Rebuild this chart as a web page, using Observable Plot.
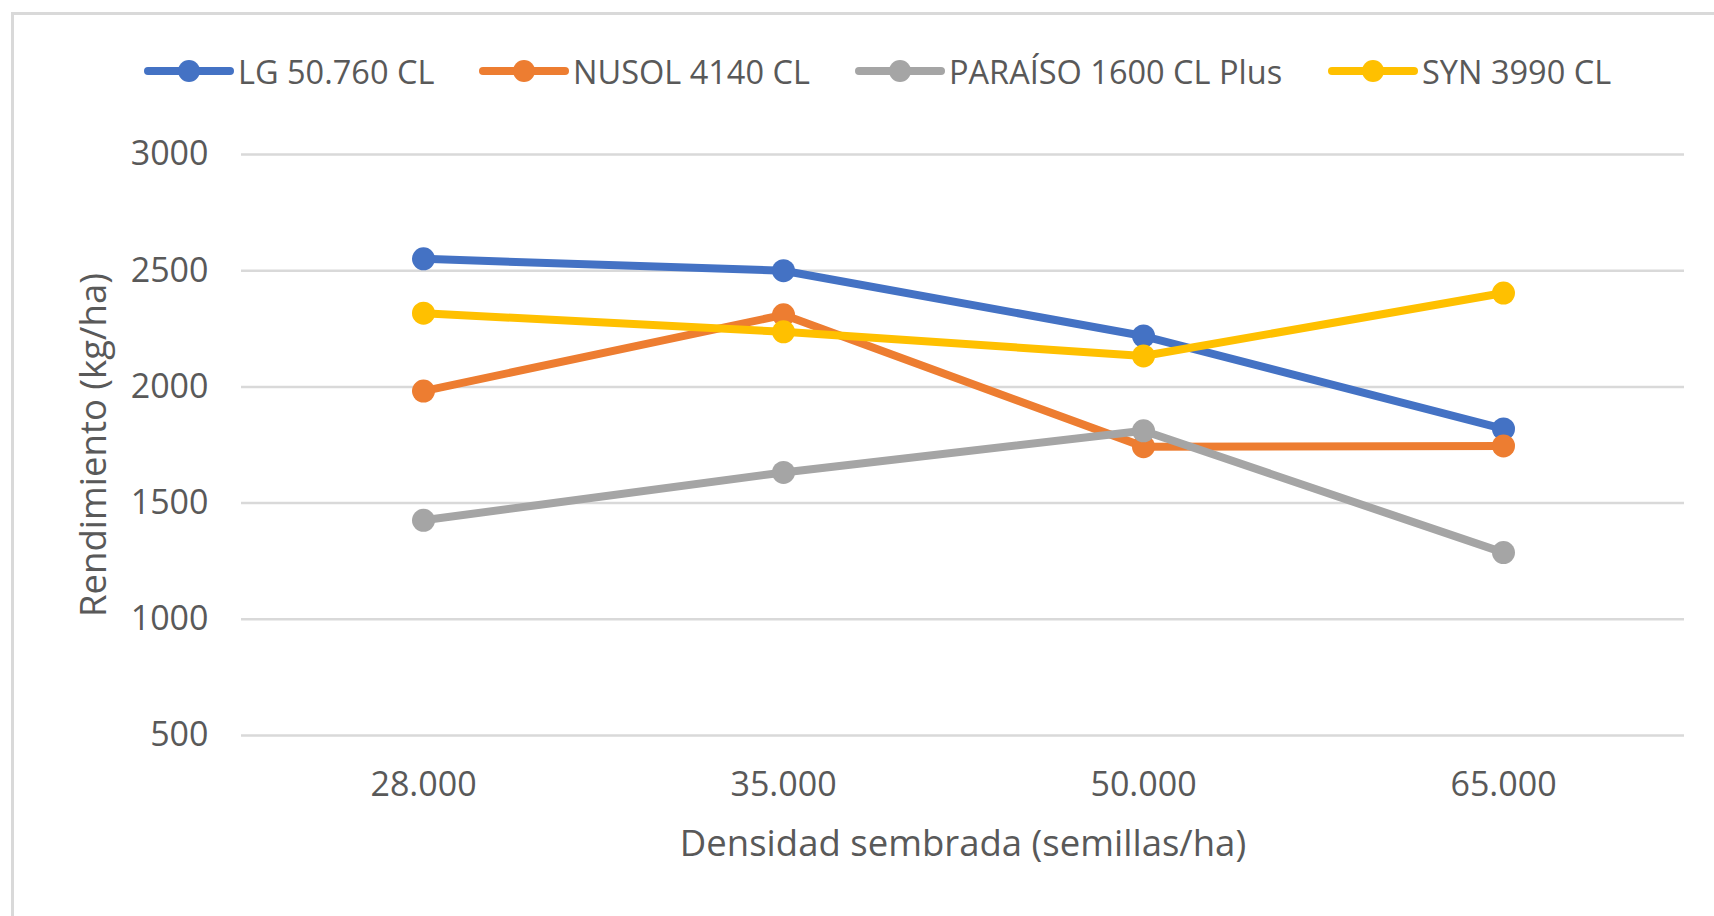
<!DOCTYPE html>
<html>
<head>
<meta charset="utf-8">
<script src="https://cdn.jsdelivr.net/npm/d3@7"></script>
<script src="https://cdn.jsdelivr.net/npm/@observablehq/plot@0.6"></script>
<style>
  html, body { margin: 0; padding: 0; background: #fff; }
  #wrap { position: relative; width: 1714px; height: 916px; overflow: hidden; font-family: "Open Sans", sans-serif; color: #595959; }
  #frame { position: absolute; left: 11px; top: 12px; width: 1720px; height: 940px; border: 3px solid #D9D9D9; box-sizing: border-box; }
  #legend { position: absolute; left: 0; top: 0; width: 1714px; height: 120px; }
  .item { position: absolute; top: 52px; height: 38px; display: flex; align-items: center; font-size: 32.5px; white-space: nowrap; }
  .item svg { margin-right: 4px; }
  #chart { position: absolute; left: 0; top: 120px; }
</style>
</head>
<body>
<div id="wrap">
  <div id="frame"></div>
  <div id="legend"></div>
  <div id="chart"></div>
</div>
<script>
const densities = ["28.000", "35.000", "50.000", "65.000"];
const seriesNames = ["LG 50.760 CL", "NUSOL 4140 CL", "PARAÍSO 1600 CL Plus", "SYN 3990 CL"];
const seriesColors = ["#4472C4", "#ED7D31", "#A5A5A5", "#FFC000"];
const lgValues = [2551, 2500, 2219, 1819];
const nusolValues = [1982, 2310, 1743, 1746];
const paraisoValues = [1426, 1632, 1811, 1287];
const synValues = [2317, 2237, 2133, 2404];
const yTicks = [500, 1000, 1500, 2000, 2500, 3000];
const xTitle = "Densidad sembrada (semillas/ha)";
const yTitle = "Rendimiento (kg/ha)";

const allValues = [lgValues, nusolValues, paraisoValues, synValues];
const data = [];
seriesNames.forEach((s, i) => {
  densities.forEach((d, j) => data.push({series: s, density: d, value: allValues[i][j]}));
});

// legend
const legendX = [144, 479, 855, 1328];
const legend = document.getElementById("legend");
seriesNames.forEach((s, i) => {
  const div = document.createElement("div");
  div.className = "item";
  div.style.left = legendX[i] + "px";
  div.innerHTML = `<svg width="90" height="26"><line x1="4" y1="13" x2="86" y2="13" stroke="${seriesColors[i]}" stroke-width="8" stroke-linecap="round"/><circle cx="45" cy="13" r="11" fill="${seriesColors[i]}"/></svg><span>${s}</span>`;
  legend.appendChild(div);
});

const marks = [
  Plot.ruleY(yTicks, {stroke: "#D9D9D9", strokeWidth: 2.5}),
  Plot.axisY(yTicks, {tickSize: 0, tickPadding: 33, fontSize: 34, fill: "#595959", label: null, tickFormat: d => String(d)}),
  Plot.axisX({tickSize: 0, tickPadding: 36, fontSize: 34, fill: "#595959", label: null}),
  Plot.text([xTitle], {frameAnchor: "bottom", dy: 120, text: d => d, fontSize: 36.5, fill: "#595959"}),
  Plot.text([yTitle], {frameAnchor: "left", dx: -147, rotate: -90, textAnchor: "middle", text: d => d, fontSize: 36.5, fill: "#595959"})
];
seriesNames.forEach((s) => {
  const sub = data.filter(d => d.series === s);
  marks.push(Plot.line(sub, {x: "density", y: "value", stroke: "series", strokeWidth: 8, strokeLinecap: "round", strokeLinejoin: "round"}));
  marks.push(Plot.dot(sub, {x: "density", y: "value", fill: "series", r: 11.5, stroke: "none"}));
});

const chart = Plot.plot({
  width: 1714,
  height: 796,
  marginLeft: 241,
  marginRight: 30,
  marginTop: 34,
  marginBottom: 181,
  style: {fontFamily: "Open Sans, sans-serif", background: "transparent", overflow: "visible"},
  x: {type: "point", domain: densities, padding: 0.5},
  y: {domain: [500, 3000]},
  color: {domain: seriesNames, range: seriesColors},
  marks
});
document.getElementById("chart").appendChild(chart);
</script>
</body>
</html>
